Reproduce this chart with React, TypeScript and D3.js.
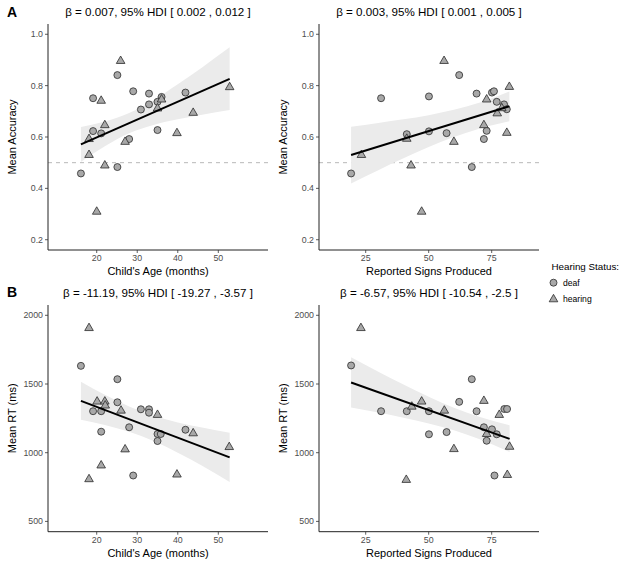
import React from "react";
import * as d3 from "d3";

// ---------- data ----------
// Panel A: Child's Age vs Mean Accuracy
const ageAccDeaf: [number, number][] = [
  [16.1, 0.458], [19.1, 0.751], [19.1, 0.623], [21.1, 0.614], [25.1, 0.841], [25.1, 0.483],
  [28, 0.592], [29, 0.778], [30.9, 0.707], [32.9, 0.769], [32.9, 0.727], [35, 0.627],
  [35, 0.737], [36, 0.756], [41.9, 0.773],
];
const ageAccHearing: [number, number][] = [
  [25.9, 0.896], [21.1, 0.741], [22, 0.646], [18.1, 0.592], [18.1, 0.53], [22, 0.489],
  [27, 0.581], [35, 0.711], [36, 0.746], [39.8, 0.615], [43.8, 0.694], [52.8, 0.794], [20, 0.309],
];
const ageAccFit: [number, number][] = [[16.1, 0.571], [52.8, 0.826]];
const ageAccBand: [number, number, number][] = [
  [16.1, 0.503, 0.639], [22, 0.564, 0.66], [28, 0.615, 0.693], [34, 0.647, 0.743],
  [40, 0.669, 0.805], [46, 0.687, 0.871], [52.8, 0.705, 0.949],
];

// Panel A right: Reported Signs vs Mean Accuracy
const signAccDeaf: [number, number][] = [
  [19.2, 0.458], [31.1, 0.751], [41.3, 0.611], [50.1, 0.758], [50.1, 0.622], [57.1, 0.615],
  [62.1, 0.841], [67.1, 0.483], [69, 0.769], [71.9, 0.592], [73, 0.624], [75.1, 0.773],
  [75.9, 0.778], [77, 0.737], [79.9, 0.727], [81, 0.708],
];
const signAccHearing: [number, number][] = [
  [56.1, 0.896], [82, 0.795], [73, 0.746], [77.2, 0.692], [79, 0.712], [71.9, 0.646],
  [81, 0.616], [60, 0.581], [41.3, 0.593], [23.3, 0.53], [43, 0.489], [47.2, 0.309],
];
const signAccFit: [number, number][] = [[19.2, 0.53], [82, 0.72]];
const signAccBand: [number, number, number][] = [
  [19.2, 0.419, 0.64], [30, 0.471, 0.655], [40, 0.517, 0.669], [50, 0.561, 0.685],
  [60, 0.6, 0.706], [70, 0.632, 0.733], [82, 0.661, 0.777],
];

// Panel B: Child's Age vs Mean RT
const ageRtDeaf: [number, number][] = [
  [16.1, 1632], [25.1, 1535], [25.1, 1367], [19.1, 1302], [21.1, 1302], [21.1, 1153],
  [28, 1185], [30.9, 1316], [32.9, 1316], [32.9, 1291], [35, 1136], [35.8, 1136],
  [35, 1085], [41.9, 1167], [29, 834],
];
const ageRtHearing: [number, number][] = [
  [18.1, 1907], [20.1, 1372], [22, 1372], [22.1, 1343], [26, 1306], [35, 1275],
  [43.8, 1141], [52.7, 1041], [27, 1024], [21.1, 907], [18.1, 807], [39.8, 841],
];
const ageRtFit: [number, number][] = [[16.1, 1377], [52.8, 966]];
const ageRtBand: [number, number, number][] = [
  [16.1, 1240, 1516], [22, 1201, 1421], [28, 1152, 1336], [34, 1085, 1269],
  [40, 1000, 1220], [46, 905, 1183], [52.8, 787, 1145],
];

// Panel B right: Reported Signs vs Mean RT
const signRtDeaf: [number, number][] = [
  [19.2, 1635], [31.1, 1302], [41.3, 1302], [50.1, 1302], [50.1, 1134], [57.1, 1150],
  [62.1, 1370], [67.1, 1535], [69, 1302], [71.9, 1185], [73, 1087], [75.1, 1170],
  [77, 1134], [80, 1318], [81.1, 1318], [76.1, 834],
];
const signRtHearing: [number, number][] = [
  [23.1, 1907], [47.2, 1372], [43.3, 1335], [56.2, 1306], [71.9, 1377], [78, 1275],
  [73, 1136], [60, 1026], [82.1, 1043], [41.1, 802], [81.2, 838],
];
const signRtFit: [number, number][] = [[19.2, 1511], [82.1, 1101]];
const signRtBand: [number, number, number][] = [
  [19.2, 1329, 1695], [30, 1292, 1590], [40, 1254, 1496], [50, 1213, 1407],
  [60, 1163, 1327], [70, 1099, 1261], [82.1, 1005, 1199],
];

const ageTicks = [20, 30, 40, 50];
const signTicks = [25, 50, 75];
const accTicks = [0.2, 0.4, 0.6, 0.8, 1.0];
const rtTicks = [500, 1000, 1500, 2000];

const titles = [
  "β = 0.007, 95% HDI [ 0.002 , 0.012 ]",
  "β = 0.003, 95% HDI [ 0.001 , 0.005 ]",
  "β = -11.19, 95% HDI [ -19.27 , -3.57 ]",
  "β = -6.57, 95% HDI [ -10.54 , -2.5 ]",
];
const legendTitle = "Hearing Status:";
const legendLabels = ["deaf", "hearing"];

// ---------- layout ----------
const FONT = "'Liberation Sans', Arial, Helvetica, sans-serif";
const FILL = "#a8a8a8";
const STROKE = "#2b2b2b";

type PanelCfg = {
  left: number; right: number; top: number; bottom: number;
  xDomain: [number, number]; yDomain: [number, number];
  xTicks: number[]; yTicks: number[]; yFmt: (v: number) => string;
  deaf: [number, number][]; hearing: [number, number][];
  fit: [number, number][]; band: [number, number, number][];
  title: string; xLabel: string; yLabel: string; chance?: number;
};

const triPath = d3.symbol().type(d3.symbolTriangle).size(32)() as string;

function Panel({ c }: { c: PanelCfg }) {
  const x = d3.scaleLinear().domain(c.xDomain).range([c.left, c.right]);
  const y = d3.scaleLinear().domain(c.yDomain).range([c.bottom, c.top]);
  const area = d3.area<[number, number, number]>()
    .x((d) => x(d[0])).y0((d) => y(d[1])).y1((d) => y(d[2]))
    .curve(d3.curveMonotoneX);
  const line = d3.line<[number, number]>().x((d) => x(d[0])).y((d) => y(d[1]));
  const cx = (c.left + c.right) / 2;
  const cy = (c.top + c.bottom) / 2;
  return (
    <g>
      <text x={cx} y={c.top - 8.5} textAnchor="middle" fontSize={11.6} fill="#000" fontFamily={FONT}>
        {c.title}
      </text>
      {c.chance !== undefined && (
        <line x1={c.left} x2={c.right} y1={y(c.chance)} y2={y(c.chance)}
          stroke="#a6a6a6" strokeWidth={0.8} strokeDasharray="4,4" />
      )}
      <path d={area(c.band) as string} fill="#ebebeb" />
      {c.deaf.map((d, i) => (
        <circle key={"d" + i} cx={x(d[0])} cy={y(d[1])} r={3.5} fill={FILL} stroke={STROKE} strokeWidth={0.8} />
      ))}
      {c.hearing.map((d, i) => (
        <path key={"h" + i} d={triPath} transform={`translate(${x(d[0])},${y(d[1])})`}
          fill={FILL} stroke={STROKE} strokeWidth={0.8} />
      ))}
      <path d={line(c.fit) as string} stroke="#000" strokeWidth={2} fill="none" />
      {/* axes */}
      <line x1={c.left} x2={c.right} y1={c.bottom} y2={c.bottom} stroke="#222" strokeWidth={1} />
      <line x1={c.left} x2={c.left} y1={c.top} y2={c.bottom} stroke="#222" strokeWidth={1} />
      {c.xTicks.map((t) => (
        <g key={"xt" + t}>
          <line x1={x(t)} x2={x(t)} y1={c.bottom} y2={c.bottom + 3} stroke="#333" strokeWidth={0.8} />
          <text x={x(t)} y={c.bottom + 11} textAnchor="middle" fontSize={8.8} fill="#4d4d4d" fontFamily={FONT}>{t}</text>
        </g>
      ))}
      {c.yTicks.map((t) => (
        <g key={"yt" + t}>
          <line x1={c.left - 3} x2={c.left} y1={y(t)} y2={y(t)} stroke="#333" strokeWidth={0.8} />
          <text x={c.left - 5} y={y(t) + 3} textAnchor="end" fontSize={8.8} fill="#4d4d4d" fontFamily={FONT}>{c.yFmt(t)}</text>
        </g>
      ))}
      <text x={cx} y={c.bottom + 25} textAnchor="middle" fontSize={11} fill="#000" fontFamily={FONT}>{c.xLabel}</text>
      <text transform={`translate(${c.left - 32},${cy}) rotate(-90)`} textAnchor="middle" fontSize={11} fill="#000" fontFamily={FONT}>{c.yLabel}</text>
    </g>
  );
}

export default function App() {
  const leftX: [number, number] = [7.98, 62.26];
  const rightX: [number, number] = [6.47, 93.77];
  const accY: [number, number] = [0.16, 1.04];
  const rtY: [number, number] = [425, 2075];
  const accFmt = (v: number) => v.toFixed(1);
  const rtFmt = (v: number) => String(v);
  const panels: PanelCfg[] = [
    { left: 48, right: 268, top: 24, bottom: 250, xDomain: leftX, yDomain: accY, xTicks: ageTicks, yTicks: accTicks, yFmt: accFmt,
      deaf: ageAccDeaf, hearing: ageAccHearing, fit: ageAccFit, band: ageAccBand, title: titles[0],
      xLabel: "Child's Age (months)", yLabel: "Mean Accuracy", chance: 0.5 },
    { left: 319, right: 539, top: 24, bottom: 250, xDomain: rightX, yDomain: accY, xTicks: signTicks, yTicks: accTicks, yFmt: accFmt,
      deaf: signAccDeaf, hearing: signAccHearing, fit: signAccFit, band: signAccBand, title: titles[1],
      xLabel: "Reported Signs Produced", yLabel: "Mean Accuracy", chance: 0.5 },
    { left: 48, right: 268, top: 305, bottom: 531.7, xDomain: leftX, yDomain: rtY, xTicks: ageTicks, yTicks: rtTicks, yFmt: rtFmt,
      deaf: ageRtDeaf, hearing: ageRtHearing, fit: ageRtFit, band: ageRtBand, title: titles[2],
      xLabel: "Child's Age (months)", yLabel: "Mean RT (ms)" },
    { left: 319, right: 539, top: 305, bottom: 531.7, xDomain: rightX, yDomain: rtY, xTicks: signTicks, yTicks: rtTicks, yFmt: rtFmt,
      deaf: signRtDeaf, hearing: signRtHearing, fit: signRtFit, band: signRtBand, title: titles[3],
      xLabel: "Reported Signs Produced", yLabel: "Mean RT (ms)" },
  ];
  return (
    <svg width={625} height={565} style={{ position: "absolute", left: 0, top: 0, background: "#fff" }}>
      <rect width={625} height={565} fill="#fff" />
      {panels.map((p, i) => <Panel key={i} c={p} />)}
      <text x={7} y={16.5} fontSize={14} fontWeight="bold" fontFamily={FONT}>A</text>
      <text x={7} y={297} fontSize={14} fontWeight="bold" fontFamily={FONT}>B</text>
      {/* legend */}
      <text x={551.5} y={269.5} fontSize={9.8} fontFamily={FONT} fill="#000">{legendTitle}</text>
      <circle cx={553.5} cy={282.7} r={3.5} fill={FILL} stroke={STROKE} strokeWidth={0.8} />
      <path d={triPath} transform="translate(553.5,299.3)" fill={FILL} stroke={STROKE} strokeWidth={0.8} />
      <text x={563} y={285.6} fontSize={8.6} fontFamily={FONT} fill="#000">{legendLabels[0]}</text>
      <text x={563} y={302.2} fontSize={8.6} fontFamily={FONT} fill="#000">{legendLabels[1]}</text>
    </svg>
  );
}
